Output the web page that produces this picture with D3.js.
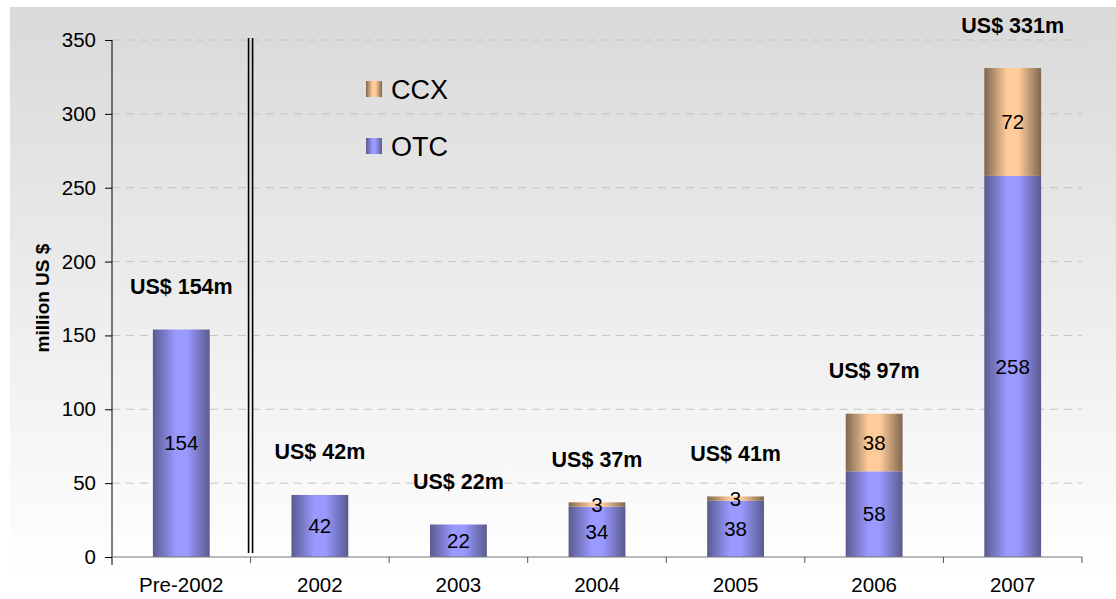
<!DOCTYPE html>
<html><head><meta charset="utf-8">
<script src="https://cdn.jsdelivr.net/npm/d3@7/dist/d3.min.js"></script>
<style>body{margin:0;background:#fff;font-family:"Liberation Sans",Arial,sans-serif}</style>
</head><body><svg id="c" width="1116" height="599"></svg>
<script>
const categories = ["Pre-2002","2002","2003","2004","2005","2006","2007"];
const otc = [154,42,22,34,38,58,258];
const ccx = [0,0,0,3,3,38,72];
const totals = [154,42,22,37,41,97,331];
const totalLabels = ["US$ 154m","US$ 42m","US$ 22m","US$ 37m","US$ 41m","US$ 97m","US$ 331m"];
const yTicks = [0,50,100,150,200,250,300,350];
const seriesNames = ["CCX","OTC"];

const svg = d3.select("#c");
const defs = svg.append("defs");
const bg = defs.append("linearGradient").attr("id","bg").attr("x1",0).attr("y1",0).attr("x2",0).attr("y2",1);
bg.append("stop").attr("offset",0).attr("stop-color","#d9d9d9");
bg.append("stop").attr("offset",1).attr("stop-color","#ffffff");
function barGrad(id, dark, light){
  const g = defs.append("linearGradient").attr("id",id).attr("x1",0).attr("y1",0).attr("x2",1).attr("y2",0);
  g.append("stop").attr("offset",0).attr("stop-color",dark);
  g.append("stop").attr("offset",0.4).attr("stop-color",light);
  g.append("stop").attr("offset",0.6).attr("stop-color",light);
  g.append("stop").attr("offset",1).attr("stop-color",dark);
}
barGrad("gOtc","#5a5a90","#9999ff");
barGrad("gCcx","#7f6650","#ffcc99");

svg.append("rect").attr("x",10).attr("y",7).attr("width",1106).attr("height",570).attr("fill","url(#bg)");

const x = d3.scaleBand().domain(categories).range([112,1082]).paddingInner(0.59).paddingOuter(0.295);
const y = d3.scaleLinear().domain([0,350]).range([557,40]);

// gridlines
svg.append("g").selectAll("line").data(yTicks.filter(d=>d>0)).join("line")
  .attr("x1",112).attr("x2",1082).attr("y1",d=>y(d)).attr("y2",d=>y(d))
  .attr("stroke","#c4c4c4").attr("stroke-width",1).attr("stroke-dasharray","8,6");

// bars
const g = svg.append("g");
categories.forEach((c,i)=>{
  g.append("rect").attr("x",x(c)).attr("width",x.bandwidth())
    .attr("y",y(otc[i])).attr("height",y(0)-y(otc[i])).attr("fill","url(#gOtc)");
  if(ccx[i]>0){
    g.append("rect").attr("x",x(c)).attr("width",x.bandwidth())
      .attr("y",y(totals[i])).attr("height",y(otc[i])-y(totals[i])).attr("fill","url(#gCcx)");
  }
});

// axes
const yAxis = d3.axisLeft(y).tickValues(yTicks).tickSize(7).tickPadding(9);
const ya = svg.append("g").attr("transform","translate(112,0)").call(yAxis);
ya.select(".domain").attr("stroke","#000").attr("d","M0,"+y(350)+"V"+(y(0)+8));
ya.selectAll(".tick line").attr("stroke","#000");
ya.selectAll("text").attr("font-size",20.5).attr("font-family","Liberation Sans, Arial").attr("fill","#000");

// x axis line
svg.append("line").attr("x1",112).attr("x2",1082).attr("y1",y(0)).attr("y2",y(0)).attr("stroke","#777").attr("stroke-width",1.2);
const bounds = categories.map((c,i)=>x(c)+x.bandwidth()+x.step()*x.paddingInner()/2);
svg.append("g").selectAll("line").data(bounds).join("line")
  .attr("x1",d=>d).attr("x2",d=>d).attr("y1",y(0)).attr("y2",y(0)+6).attr("stroke","#555");
svg.append("g").selectAll("text").data(categories).join("text")
  .attr("x",d=>x(d)+x.bandwidth()/2).attr("y",592).attr("text-anchor","middle")
  .attr("font-size",20.5).text(d=>d);

// double separator line
const sep = bounds[0];
[-2,2].forEach(o=>svg.append("line").attr("x1",sep+o).attr("x2",sep+o).attr("y1",38).attr("y2",553)
  .attr("stroke","#000").attr("stroke-width",1.6));

// y title
svg.append("text").attr("transform","translate(42,298) rotate(-90)").attr("text-anchor","middle")
  .attr("dy","0.35em").attr("font-size",19).attr("font-weight","bold").text("million US $");

// value labels
categories.forEach((c,i)=>{
  const cx = x(c)+x.bandwidth()/2;
  g.append("text").attr("x",cx).attr("y",(y(0)+y(otc[i]))/2).attr("dy","0.35em")
    .attr("text-anchor","middle").attr("font-size",20.5).text(otc[i]);
  if(ccx[i]>0){
    g.append("text").attr("x",cx).attr("y",(y(otc[i])+y(totals[i]))/2).attr("dy","0.35em")
      .attr("text-anchor","middle").attr("font-size",20.5).text(ccx[i]);
  }
  g.append("text").attr("x",cx).attr("y",y(totals[i])-43).attr("dy","0.35em")
    .attr("text-anchor","middle").attr("font-size",21.5).attr("font-weight","bold").text(totalLabels[i]);
});

// legend
const lg = svg.append("g");
seriesNames.forEach((s,i)=>{
  const ly = 89 + i*57;
  lg.append("rect").attr("x",366).attr("y",ly-8).attr("width",16).attr("height",16)
    .attr("fill", s==="CCX"?"url(#gCcx)":"url(#gOtc)");
  lg.append("text").attr("x",391).attr("y",ly).attr("dy","0.36em").attr("font-size",27).text(s);
});
</script></body></html>
